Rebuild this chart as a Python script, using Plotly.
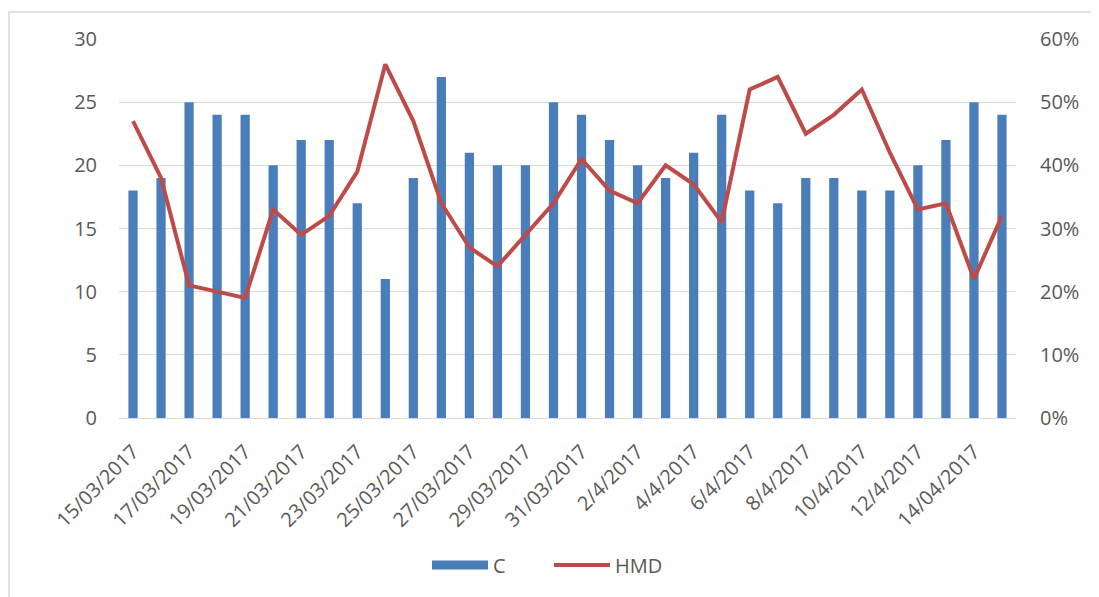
import plotly.graph_objects as go

dates = ["15/03/2017", "16/03/2017", "17/03/2017", "18/03/2017", "19/03/2017",
         "20/03/2017", "21/03/2017", "22/03/2017", "23/03/2017", "24/03/2017",
         "25/03/2017", "26/03/2017", "27/03/2017", "28/03/2017", "29/03/2017",
         "30/03/2017", "31/03/2017", "1/4/2017", "2/4/2017", "3/4/2017",
         "4/4/2017", "5/4/2017", "6/4/2017", "7/4/2017", "8/4/2017",
         "9/4/2017", "10/4/2017", "11/4/2017", "12/4/2017", "13/4/2017",
         "14/04/2017", "15/04/2017"]
c_values = [18, 19, 25, 24, 24, 20, 22, 22, 17, 11, 19, 27, 21, 20, 20, 25,
            24, 22, 20, 19, 21, 24, 18, 17, 19, 19, 18, 18, 20, 22, 25, 24]
hmd_values = [0.47, 0.38, 0.21, 0.20, 0.19, 0.33, 0.29, 0.32, 0.39, 0.56, 0.47,
              0.34, 0.27, 0.24, 0.29, 0.34, 0.41, 0.36, 0.34, 0.40, 0.37, 0.31,
              0.52, 0.54, 0.45, 0.48, 0.52, 0.42, 0.33, 0.34, 0.22, 0.32]
shown_labels = dates[::2]

W, H = 1099, 597
OFF = 8  # page body margin offset
L, T = 119 - OFF, 39 - OFF
pw, ph = 897, 379
R, B = W - L - pw, H - T - ph

font = "Open Sans, DejaVu Sans, sans-serif"
grey = "#595959"
bar_color = "#4A7EBB"
line_color = "#BE4B48"

fig = go.Figure()
fig.add_trace(go.Bar(x=dates, y=c_values, name="C", marker_color=bar_color,
                     marker_line_width=0, yaxis="y", showlegend=False))
# legend proxy showing the wide Excel-style rectangle for the bar series
fig.add_trace(go.Scatter(x=[None], y=[None], name="C", mode="lines",
                         line=dict(color=bar_color, width=9), yaxis="y"))
fig.add_trace(go.Scatter(x=dates, y=hmd_values, name="HMD", mode="lines",
                         line=dict(color=line_color, width=4), yaxis="y2"))

def px_x(x):
    return (x - 119) / pw

def px_y(y):
    return (418 - y) / ph

fig.update_layout(
    width=W, height=H,
    margin=dict(l=L, r=R, t=T, b=B, autoexpand=False),
    paper_bgcolor="white", plot_bgcolor="white",
    font=dict(family=font, size=19, color=grey),
    bargap=0.67,
    showlegend=True,
    legend=dict(orientation="h", x=px_x(549), xanchor="center",
                y=px_y(565), yanchor="middle",
                font=dict(size=20, color=grey), itemwidth=56,
                entrywidth=51, entrywidthmode="pixels",
                traceorder="normal", tracegroupgap=0),
    xaxis=dict(type="category", tickmode="array", tickvals=shown_labels,
               ticktext=shown_labels, tickangle=-45, showgrid=False,
               showline=True, linecolor="#D9D9D9", linewidth=1,
               ticks="", tickfont=dict(size=20, color=grey),
               ticklabelstandoff=13),
    yaxis=dict(range=[0, 30], dtick=5, showgrid=True, gridcolor="#D9D9D9",
               gridwidth=1, zeroline=False, showline=False, ticks="",
               tickfont=dict(size=20, color=grey), ticklabelstandoff=21),
    yaxis2=dict(range=[0, 0.6], dtick=0.1, tickformat=".0%", overlaying="y",
                side="right", showgrid=False, zeroline=False, showline=False,
                ticks="", tickfont=dict(size=20, color=grey),
                ticklabelstandoff=23),
    shapes=[dict(type="rect", xref="paper", yref="paper",
                 x0=px_x(9), x1=px_x(W + 20),
                 y0=px_y(H + 20), y1=px_y(12),
                 line=dict(color="#D9D9D9", width=1.5), layer="below")],
)

fig.write_html("out.html")
